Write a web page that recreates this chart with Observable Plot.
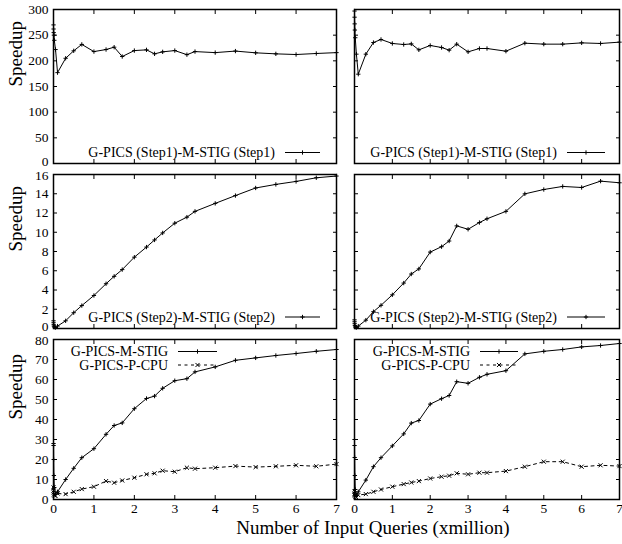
<!DOCTYPE html>
<html><head><meta charset="utf-8">
<script src="https://cdn.jsdelivr.net/npm/d3@7"></script>
<script src="https://cdn.jsdelivr.net/npm/@observablehq/plot@0.6"></script>
<style>
body{margin:0;background:#fff;}
#chart{position:relative;width:622px;height:544px;font-family:"Liberation Serif","Times New Roman",serif;}
#chart svg{position:absolute;overflow:visible;}
</style></head><body><div id="chart"></div>
<script>
// ---- data ----
const xs = [0.001,0.002,0.005,0.01,0.02,0.05,0.1,0.3,0.5,0.7,1.0,1.3,1.5,1.7,2.0,2.3,2.5,2.7,3.0,3.3,3.5,4.0,4.5,5.0,5.5,6.0,6.5,7.0];
const xTicks = [0,1,2,3,4,5,6,7];

const step1Left  = [270,262,255,250,240,222, 177,205,219.5,232,218,222,226.6,208.4,220,221.4,213.6,217.5,220,212,218,216,219,215.6,213.6,212.3,214.3,216];
const step1Right = [297,285,272,260,245,213, 174,213,235.7,241.6,233.8,231.8,233,221.4,229.9,226,220.8,232.5,217.5,224,224,218.8,234.4,232.5,232.5,235,233.8,236.4];
const step2Left  = [0.8,0.6,0.4,0.25,0.15,0.1, 0.25,0.8,1.64,2.38,3.43,4.65,5.42,6.12,7.41,8.46,9.2,9.93,10.94,11.57,12.17,13.0,13.81,14.6,14.97,15.28,15.66,15.84];
const step2Right = [0.9,0.7,0.5,0.3,0.15,0.1, 0.25,0.87,1.75,2.41,3.5,4.72,5.66,6.19,7.94,8.5,9.09,10.66,10.31,11.01,11.4,12.17,13.99,14.44,14.76,14.65,15.31,15.14];
const mstigLeft  = [28,27,20,12,6,2.5, 3.85,10,15.6,20.9,25.4,32.6,37,38.3,45.4,50.5,51.7,55.6,59.4,60.4,63.8,66.3,69.6,70.8,72,73,74.1,75];
const pcpuLeft   = [6,4.5,3.5,2.5,2,1.8, 3,2.7,3.85,5.2,6.4,9.2,8.4,9.5,10.9,12.6,13.1,14.4,13.9,15.9,15.4,15.9,16.7,16.2,16.6,17.1,16.6,17.7];
const mstigRight = [30,27,21,12,5,2, 3.85,9.7,16.4,20.9,26.8,32.8,38.2,39.5,47.7,50.4,52,58.9,58.1,61.1,62.6,64.4,72.8,74.1,75,76.3,77,78];
const pcpuRight  = [4,3,2.5,2,1.5,1, 2.2,2.7,3.85,5,6.4,7.7,8.5,9.2,10.5,11.4,11.9,13.1,12.6,13.4,13.4,14.2,16.4,18.9,18.9,16.4,17.1,16.7];

const yTicks1 = [0,50,100,150,200,250,300];
const yTicks2 = [0,2,4,6,8,10,12,14,16];
const yTicks3 = [0,10,20,30,40,50,60,70,80];

const labelStep1 = "G-PICS (Step1)-M-STIG (Step1)";
const labelStep2 = "G-PICS (Step2)-M-STIG (Step2)";
const labelMSTIG = "G-PICS-M-STIG";
const labelPCPU = "G-PICS-P-CPU";
const yLabel = "Speedup";
const xLabel = "Number of Input Queries (xmillion)";

// ---- drawing ----
const FONT = '"Liberation Serif","Times New Roman",serif';
const chart = document.getElementById("chart");

const cols = [
  {left: 0, width: 340, marginLeft: 53, marginRight: 4, showY: true},
  {left: 340, width: 282, marginLeft: 14, marginRight: 3, showY: false}
];
const rows = [
  {top: 0, height: 166, marginTop: 9, marginBottom: 3, domain: [0,300], ticks: yTicks1, showX: false},
  {top: 166, height: 166, marginTop: 8, marginBottom: 4, domain: [0,16], ticks: yTicks2, showX: false},
  {top: 332, height: 212, marginTop: 7, marginBottom: 45, domain: [0,80], ticks: yTicks3, showX: true}
];

const panels = [
  [ [{values: step1Left, symbol: "plus"}], [{values: step1Right, symbol: "plus"}] ],
  [ [{values: step2Left, symbol: "plus"}], [{values: step2Right, symbol: "plus"}] ],
  [ [{values: mstigLeft, symbol: "plus"}, {values: pcpuLeft, symbol: "times", dashed: true}],
    [{values: mstigRight, symbol: "plus"}, {values: pcpuRight, symbol: "times", dashed: true}] ]
];

rows.forEach((row, ri) => {
  cols.forEach((col, ci) => {
    const marks = [];
    marks.push(Plot.axisX(xTicks, {anchor: "bottom", tickSize: -4, tickFormat: () => "", label: null}));
    marks.push(Plot.axisX(xTicks, {anchor: "top", tickSize: -4, tickFormat: () => "", label: null}));
    marks.push(Plot.axisY(row.ticks, {anchor: "left", tickSize: -4, tickFormat: () => "", label: null}));
    marks.push(Plot.axisY(row.ticks, {anchor: "right", tickSize: -4, tickFormat: () => "", label: null}));
    if (row.showX) marks.push(Plot.axisX(xTicks, {anchor: "bottom", tickSize: 0, tickPadding: 4, label: null}));
    if (col.showY) {
      const t = row.ticks;
      const first = t[0], last = t[t.length - 1];
      // lowest label nudged up, highest nudged down, so neighbouring rows do not collide
      marks.push(Plot.axisY([first], {anchor: "left", tickSize: 0, tickPadding: 5, label: null, dy: row.showX ? 0 : -1.5}));
      marks.push(Plot.axisY(t.slice(1, -1), {anchor: "left", tickSize: 0, tickPadding: 5, label: null}));
      marks.push(Plot.axisY([last], {anchor: "left", tickSize: 0, tickPadding: 5, label: null, dy: ri === 0 ? 0 : 1.5}));
      marks.push(Plot.text([yLabel], {text: d => d, frameAnchor: "left", rotate: -90, dx: -38, fontSize: 19, fontFamily: FONT}));
    }
    for (const s of panels[ri][ci]) {
      const data = xs.map((x, i) => ({x, y: s.values[i]}));
      marks.push(Plot.line(data, {x: "x", y: "y", stroke: "black", strokeWidth: 1, strokeDasharray: s.dashed ? "3,3.5" : null}));
      marks.push(Plot.dot(data, {x: "x", y: "y", symbol: s.symbol, r: s.symbol === "plus" ? 1.5 : 2, stroke: "black", strokeWidth: 1}));
    }
    marks.push(Plot.frame({stroke: "black", strokeWidth: 1.5}));
    const p = Plot.plot({
      width: col.width, height: row.height,
      marginLeft: col.marginLeft, marginRight: col.marginRight,
      marginTop: row.marginTop, marginBottom: row.marginBottom,
      x: {domain: [0, 7]},
      y: {domain: row.domain},
      style: {fontFamily: FONT, fontSize: "13.5px", color: "black", background: "transparent", overflow: "visible"},
      marks
    });
    p.style.left = col.left + "px";
    p.style.top = row.top + "px";
    chart.appendChild(p);
  });
});

// legends and x label overlay
const ov = d3.select(chart).append("svg").attr("width", 622).attr("height", 544)
  .style("left", "0px").style("top", "0px").style("font-family", FONT);

function legendEntry(textEnd, y, x1, x2, label, symbol, dashed) {
  ov.append("text").attr("x", textEnd).attr("y", y).attr("text-anchor", "end")
    .attr("dominant-baseline", "central").attr("font-size", 14).attr("fill", "black").text(label);
  ov.append("line").attr("x1", x1).attr("x2", x2).attr("y1", y).attr("y2", y)
    .attr("stroke", "black").attr("stroke-width", 1).attr("stroke-dasharray", dashed ? "3,3.5" : null);
  const m = (x1 + x2) / 2;
  const d = symbol === "plus" ? d3.symbol(d3.symbolPlus, Math.PI * 2.25)() : d3.symbol(d3.symbolTimes, Math.PI * 4)();
  ov.append("path").attr("d", d).attr("transform", `translate(${m},${y})`).attr("fill", "none").attr("stroke", "black").attr("stroke-width", 1);
}
legendEntry(275, 152.5, 285, 320, labelStep1, "plus", false);
legendEntry(557, 152.5, 567, 605, labelStep1, "plus", false);
legendEntry(275, 317, 285, 320, labelStep2, "plus", false);
legendEntry(557, 317, 567, 605, labelStep2, "plus", false);
legendEntry(168, 351.5, 178, 217, labelMSTIG, "plus", false);
legendEntry(168, 365, 178, 217, labelPCPU, "times", true);
legendEntry(470, 351.5, 480, 518, labelMSTIG, "plus", false);
legendEntry(470, 365, 480, 518, labelPCPU, "times", true);

ov.append("text").attr("x", 373).attr("y", 534).attr("text-anchor", "middle")
  .attr("font-size", 19).attr("fill", "black").text(xLabel);
</script></body></html>
